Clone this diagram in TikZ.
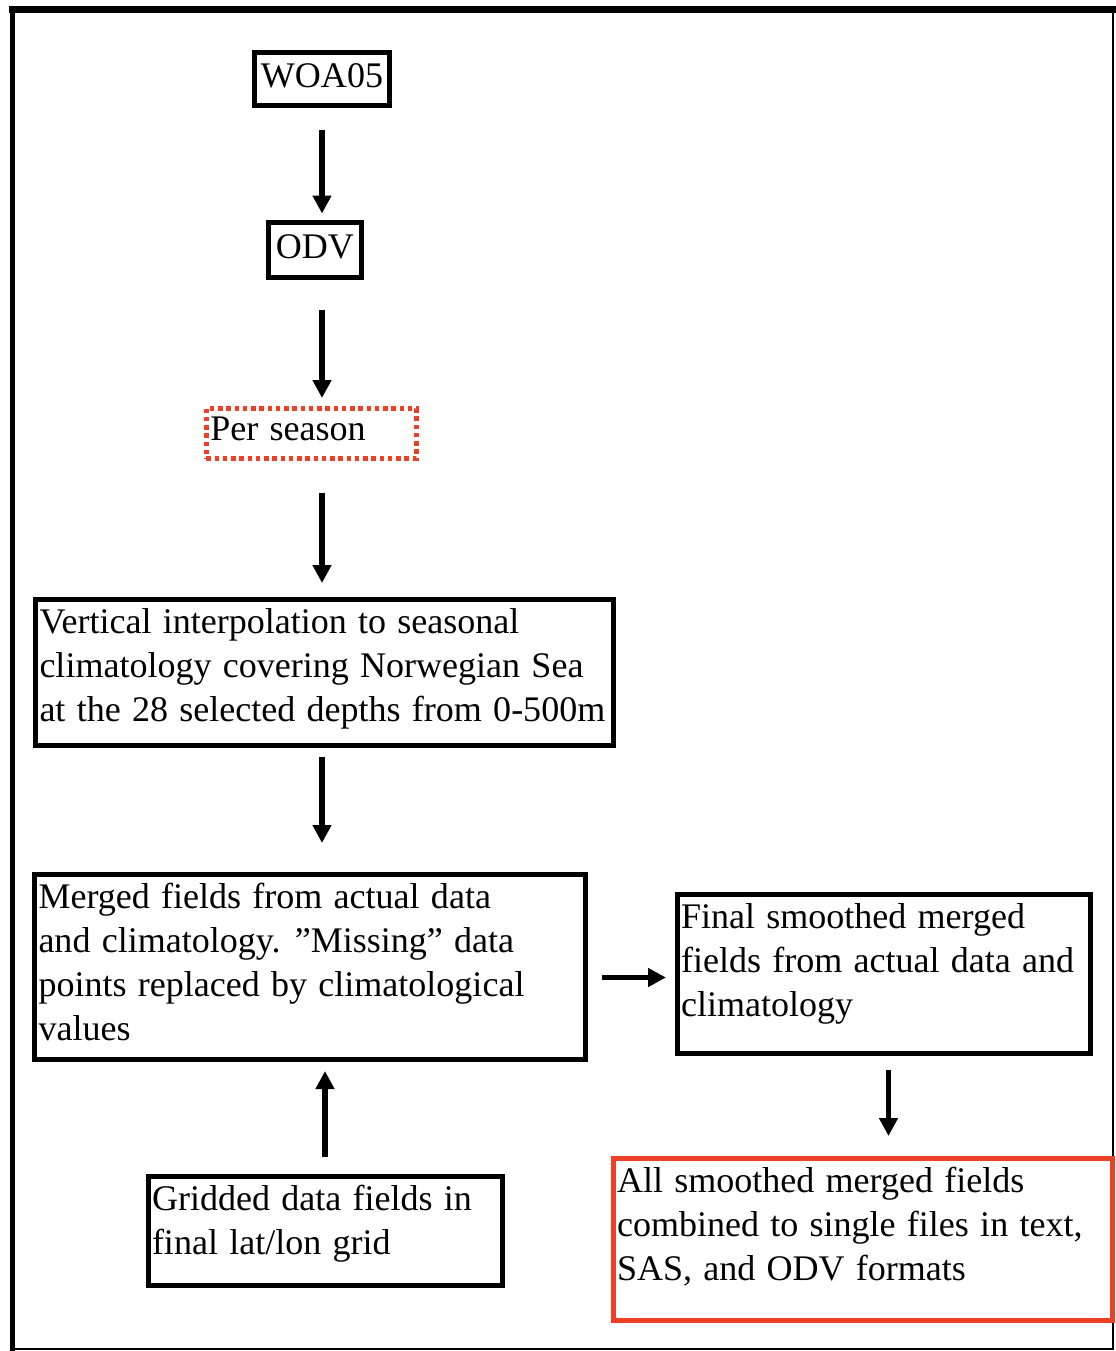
\documentclass[tikz,border=0pt]{standalone}
\usepackage{fontspec}
\setmainfont{Liberation Serif}[WordSpace=1.25]
\usepackage{xcolor}
\usetikzlibrary{arrows.meta, calc}
\definecolor{cRed}{HTML}{EE4027}
\newcommand{\boxtxt}[3]{\parbox[t][#2][t]{#1}{\raggedright\strut #3}}

\begin{document}
\begin{tikzpicture}[x=0.2mm, y=-0.2mm,
    font=\fontsize{20.5pt}{25pt}\selectfont,
    procbox/.style={draw, line width=1mm, rectangle, inner xsep=0.8mm,
      inner ysep=0.75mm, anchor=north west},
    namebox/.style={draw, line width=1mm, rectangle, inner sep=0pt},
    flow/.style={-{Triangle[length=3.6mm, width=3.6mm]}, line width=1.1mm},
  ]
  \useasboundingbox (0,0) rectangle (1115,1351);
  % outer frame
  \coordinate (fnw) at (12.5,9.5);
  \coordinate (fne) at (1112.5,9.5);
  \coordinate (fsw) at (12.5,1348.5);
  \coordinate (fse) at (1112.5,1348.5);
  \draw[line width=1.4mm, line cap=rect] (fnw) -- (fne);
  \draw[line width=1mm, line cap=rect] (fnw) -- (fsw);
  \draw[line width=0.4mm, line cap=rect] (fne) -- (fse) -- (fsw);

  % boxes
  \node[namebox, minimum width=27mm, minimum height=10.6mm] (woa) at (322,79) {\strut WOA05};
  \node[namebox, minimum width=18.6mm, minimum height=11mm] (odv) at (315,250) {\strut ODV};
  \node[procbox, draw=cRed, inner ysep=0.2mm, line width=0.95mm, dash pattern=on 0.9mm off 0.75mm]
    (season) at (204,406) {\boxtxt{40.4mm}{9.6mm}{Per season}};
  \node[procbox] (vint) at (33,596.5) {\boxtxt{114mm}{27.7mm}{Vertical interpolation to seasonal\\
    climatology covering Norwegian Sea\\ at the 28 selected depths from 0-500m}};
  \node[procbox] (merged) at (32,871.5) {\boxtxt{108.6mm}{35.5mm}{Merged fields from actual data\\
    and climatology. ”Missing” data\\ points replaced by climatological\\ values}};
  \node[procbox] (final) at (674.5,891.5) {\boxtxt{81mm}{30.3mm}{Final smoothed merged\\
    fields from actual data and\\ climatology}};
  \node[procbox, draw=cRed] (allsm) at (610.5,1155.5) {\boxtxt{98.2mm}{30.9mm}{All smoothed merged fields\\
    combined to single files in text,\\ SAS, and ODV formats}};
  \node[procbox] (grid) at (145.5,1173.5) {\boxtxt{69.2mm}{20.3mm}{Gridded data fields in\\
    final lat/lon grid}};

  % arrows
  \draw[flow, shorten <=4.3mm, shorten >=1.3mm] (woa.south) -- (odv.north -| woa.south);
  \draw[flow, shorten <=5.9mm, shorten >=1.6mm] (odv.south -| woa.south) -- (season.north -| woa.south);
  \draw[flow, shorten <=6.4mm, shorten >=2.7mm] (season.south -| woa.south) -- (vint.north -| woa.south);
  \draw[flow, shorten <=1.9mm, shorten >=5.7mm] (vint.south -| woa.south) -- (merged.north -| woa.south);
  \draw[flow, shorten <=2.7mm, shorten >=1.7mm] ([yshift=-2.2mm]merged.east) -- ([yshift=-2.2mm]merged.east -| final.west);
  \draw[flow, shorten <=2.9mm, shorten >=3.9mm] ([xshift=1mm]final.south) -- ([xshift=1mm]final.south |- allsm.north);
  \draw[flow, shorten <=3.3mm, shorten >=1.9mm] (grid.north) -- (merged.south -| grid.north);
\end{tikzpicture}
\end{document}
